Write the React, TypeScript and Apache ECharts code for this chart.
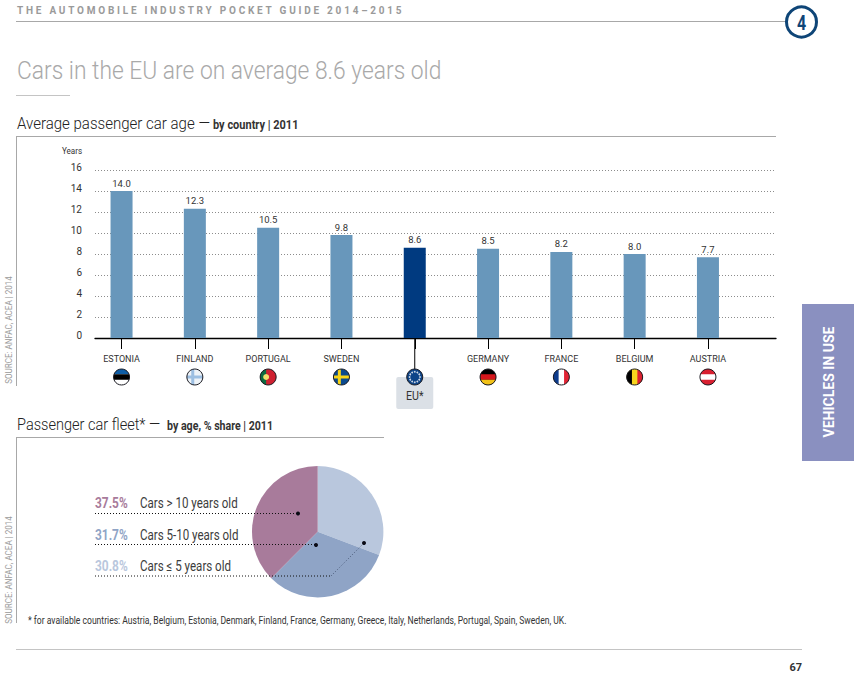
import React, { useEffect, useRef } from "react";
import * as echarts from "echarts";

const categories = ["ESTONIA", "FINLAND", "PORTUGAL", "SWEDEN", "EU*", "GERMANY", "FRANCE", "BELGIUM", "AUSTRIA"];
const ageValues = [14.0, 12.3, 10.5, 9.8, 8.6, 8.5, 8.2, 8.0, 7.7];
const yTicks = { min: 0, max: 16, interval: 2 };
const shareLabels = ["Cars ≤ 5 years old", "Cars 5-10 years old", "Cars > 10 years old"];
const shareValues = [30.8, 31.7, 37.5];
const shareColors = ["#b9c7dd", "#8fa4c6", "#a87b9b"];
const footnote = "* for available countries: Austria, Belgium, Estonia, Denmark, Finland, France, Germany, Greece, Italy, Netherlands, Portugal, Spain, Sweden, UK.";

const ROBOTO = "Roboto, sans-serif";
const R = 8;
const registered: Record<string, boolean> = {};

function hBand(y0: number, y1: number) {
  const name = `h_${y0}_${y1}`.replace(/[.-]/g, "m");
  if (!registered[name]) {
    const a = Math.sqrt(Math.max(0, R * R - y0 * y0));
    const b = Math.sqrt(Math.max(0, R * R - y1 * y1));
    const d = `M${-a} ${y0}L${a} ${y0}A${R} ${R} 0 0 1 ${b} ${y1}L${-b} ${y1}A${R} ${R} 0 0 1 ${-a} ${y0}Z`;
    echarts.graphic.registerShape(name, echarts.graphic.extendPath(d, {}));
    registered[name] = true;
  }
  return name;
}
function vBand(x0: number, x1: number) {
  const name = `v_${x0}_${x1}`.replace(/[.-]/g, "m");
  if (!registered[name]) {
    const a = Math.sqrt(Math.max(0, R * R - x0 * x0));
    const b = Math.sqrt(Math.max(0, R * R - x1 * x1));
    const d = `M${x0} ${-a}A${R} ${R} 0 0 1 ${x1} ${-b}L${x1} ${b}A${R} ${R} 0 0 1 ${x0} ${a}Z`;
    echarts.graphic.registerShape(name, echarts.graphic.extendPath(d, {}));
    registered[name] = true;
  }
  return name;
}

type Part = [string, string];
const flagParts: Record<string, { base: string; parts: Part[]; dot?: string; dots?: boolean }> = {
  ESTONIA: { base: "#ffffff", parts: [[hBand(-8, -2.7), "#0f5fa8"], [hBand(-2.7, 2.7), "#000000"]] },
  FINLAND: { base: "#eef3f8", parts: [[hBand(-1.6, 1.6), "#9dbfe2"], [vBand(-3.6, -0.6), "#9dbfe2"]] },
  PORTUGAL: { base: "#cf2030", parts: [[vBand(-8, -2), "#0b6b40"]], dot: "#f2df6b" },
  SWEDEN: { base: "#0b4a8e", parts: [[hBand(-1.6, 1.6), "#f7d417"], [vBand(-3.6, -0.6), "#f7d417"]] },
  "EU*": { base: "#0d4488", parts: [], dots: true },
  GERMANY: { base: "#000000", parts: [[hBand(-2.7, 2.7), "#d4161c"], [hBand(2.7, 8), "#f2c218"]] },
  FRANCE: { base: "#ffffff", parts: [[vBand(-8, -2.7), "#0e3c8c"], [vBand(2.7, 8), "#e12333"]] },
  BELGIUM: { base: "#f6d51e", parts: [[vBand(-8, -2.7), "#000000"], [vBand(2.7, 8), "#dc2230"]] },
  AUSTRIA: { base: "#ffffff", parts: [[hBand(-8, -2.7), "#d81f30"], [hBand(2.7, 8), "#d81f30"]] },
};

function renderFlag(params: any, api: any) {
  const idx = api.value(0);
  const [x, base] = api.coord([idx, 0]);
  const cat = categories[idx];
  const spec = flagParts[cat];
  const isEU = cat === "EU*";
  const children: any[] = [];
  if (isEU) {
    children.push({ type: "rect", shape: { x: x - 18.5, y: base + 39, width: 37, height: 32, r: 2 }, style: { fill: "#dbe0e6" } });
    children.push({ type: "line", shape: { x1: x, y1: base, x2: x, y2: base + 34 }, style: { stroke: "#000", lineWidth: 1 } });
    children.push({ type: "text", x, y: base + 58, scaleX: 0.85, style: { x: 0, y: 0, text: "EU*", fill: "#333", font: `12.5px ${ROBOTO}`, align: "center", verticalAlign: "middle" } });
  }
  const flag: any[] = [{ type: "circle", shape: { cx: 0, cy: 0, r: R }, style: { fill: spec.base } }];
  spec.parts.forEach(([shape, fill]) => flag.push({ type: shape, style: { fill } }));
  if (spec.dot) flag.push({ type: "circle", shape: { cx: -2, cy: 0, r: 3 }, style: { fill: spec.dot } });
  if (spec.dots) {
    for (let k = 0; k < 12; k++) {
      const a = (k * Math.PI) / 6;
      flag.push({ type: "circle", shape: { cx: 5.2 * Math.cos(a), cy: 5.2 * Math.sin(a), r: 0.9 }, style: { fill: "#cfd9e6" } });
    }
  }
  flag.push({ type: "circle", shape: { cx: 0, cy: 0, r: R }, style: { fill: "none", stroke: "#1b1b22", lineWidth: 1 } });
  children.push({ type: "group", x, y: base + 39, children: flag });
  return { type: "group", children };
}

const txt = (x: number, y: number, text: string, font: string, fill: string, scaleX = 1, extra: any = {}) => ({
  type: "text",
  x,
  y,
  scaleX,
  silent: true,
  style: { text, font, fill, align: "left", verticalAlign: "middle", ...extra },
});
const rule = (x1: number, y1: number, x2: number, y2: number, stroke = "#a8a8a8", lineWidth = 1) => ({
  type: "line",
  silent: true,
  shape: { x1, y1, x2, y2 },
  style: { stroke, lineWidth },
});
const rot = (x: number, y: number, text: string, font: string, fill: string, scaleX = 1) => ({
  type: "text",
  x,
  y,
  rotation: Math.PI / 2,
  scaleX,
  silent: true,
  style: { text, font, fill, align: "center", verticalAlign: "middle" },
});
const leader = (points: number[][], stroke = "#111") => ({
  type: "polyline",
  silent: true,
  shape: { points },
  style: { stroke, lineWidth: 1, lineDash: [1, 2], fill: "none" },
});
const dot = (cx: number, cy: number) => ({ type: "circle", silent: true, shape: { cx, cy, r: 2 }, style: { fill: "#0a0a14" } });

export default function App() {
  const ref = useRef<HTMLDivElement>(null);
  useEffect(() => {
    const chart = echarts.init(ref.current!, null, { renderer: "svg" });
    const elements: any[] = [
      txt(17, 10, "THE AUTOMOBILE INDUSTRY POCKET GUIDE 2014–2015", `bold 10px ${ROBOTO}`, "#9a9a9a"),
      rule(16, 21.5, 786, 21.5),
      { type: "circle", silent: true, shape: { cx: 801.5, cy: 22, r: 15 }, style: { fill: "#fff", stroke: "#0e4577", lineWidth: 3 } },
      txt(801.5, 23, "4", `bold 20px ${ROBOTO}`, "#0e4577", 0.8, { align: "center" }),
      txt(17, 71, "Cars in the EU are on average 8.6 years old", `300 25.5px ${ROBOTO}`, "#a9a9a9", 0.895),
      rule(16, 95.5, 70, 95.5, "#c4c4c4"),
      txt(17, 124, "Average passenger car age —", `300 16px ${ROBOTO}`, "#222", 0.94),
      txt(213, 125, "by country | 2011", `bold 12.5px ${ROBOTO}`, "#333", 0.88),
      rule(16, 136.5, 776, 136.5),
      rule(16.5, 136, 16.5, 386),
      txt(62, 151, "Years", `9.5px ${ROBOTO}`, "#333", 0.85),
      rot(9, 330, "SOURCE: ANFAC, ACEA | 2014", `9.5px ${ROBOTO}`, "#9a9a9a", 0.85),
      { type: "rect", silent: true, shape: { x: 802, y: 304, width: 52, height: 157 }, style: { fill: "#8a90c0" } },
      rot(829, 382, "VEHICLES IN USE", `bold 14px ${ROBOTO}`, "#ffffff"),
      txt(17, 425, "Passenger car fleet* —", `300 16px ${ROBOTO}`, "#222", 0.91),
      txt(167, 426, "by age, % share | 2011", `bold 12.5px ${ROBOTO}`, "#333", 0.85),
      rule(16, 437.5, 384, 437.5),
      rule(16.5, 437, 16.5, 623),
      rot(9, 570, "SOURCE: ANFAC, ACEA | 2014", `9.5px ${ROBOTO}`, "#9a9a9a", 0.85),
      txt(95, 503, "37.5%", `bold 14px ${ROBOTO}`, shareColors[2], 0.85),
      txt(140, 503, shareLabels[2], `15px ${ROBOTO}`, "#3c3c3c", 0.77),
      txt(95, 535, "31.7%", `bold 14px ${ROBOTO}`, shareColors[1], 0.85),
      txt(140, 535, shareLabels[1], `15px ${ROBOTO}`, "#3c3c3c", 0.77),
      txt(95, 566, "30.8%", `bold 14px ${ROBOTO}`, shareColors[0], 0.85),
      txt(140, 566, shareLabels[0], `15px ${ROBOTO}`, "#3c3c3c", 0.77),
      leader([[95, 513.5], [298, 513.5]]),
      leader([[95, 544.5], [316, 544.5]]),
      leader([[95, 576], [331, 576]]),
      leader([[331, 576], [364, 543]], "#4a5a78"),
      dot(298, 513.5),
      dot(316, 545),
      dot(364, 543),
      txt(28, 620, footnote, `10.5px ${ROBOTO}`, "#333", 0.818),
      rule(16, 649.5, 802, 649.5, "#c4c4c4"),
      txt(802, 667, "67", `bold 11px ${ROBOTO}`, "#333", 1, { align: "right" }),
    ];
    const option: any = {
      animation: false,
      backgroundColor: "#ffffff",
      grid: [
        { left: 95, top: 170, width: 681, height: 168 },
        { left: 84.9, top: 170, width: 659.7, height: 168 },
      ],
      xAxis: [
        {
          type: "category",
          gridIndex: 0,
          data: categories,
          axisLine: { show: true, lineStyle: { color: "#000", width: 1.3 } },
          axisTick: { show: false },
          axisLabel: { show: false },
          splitLine: { show: false },
        },
        {
          type: "category",
          gridIndex: 1,
          data: categories,
          axisLine: { show: false },
          axisTick: { show: true, alignWithLabel: true, length: 11, lineStyle: { color: "#000", width: 1 } },
          axisLabel: {
            margin: 16,
            interval: 0,
            color: "#333",
            fontFamily: ROBOTO,
            fontSize: 9,
            formatter: (v: string) => (v === "EU*" ? "" : v),
          },
        },
      ],
      yAxis: [
        {
          type: "value",
          gridIndex: 0,
          ...yTicks,
          axisLine: { show: false },
          axisTick: { show: false },
          axisLabel: { margin: 13, color: "#333", fontFamily: ROBOTO, fontSize: 10, verticalAlign: "bottom", lineHeight: 6 },
          splitLine: { show: true, lineStyle: { color: "#8c8c8c", type: [1, 2], width: 1 } },
        },
        { type: "value", gridIndex: 1, ...yTicks, show: false, splitLine: { show: false } },
      ],
      series: [
        {
          type: "bar",
          xAxisIndex: 1,
          yAxisIndex: 1,
          barWidth: 22,
          silent: true,
          data: ageValues.map((value, i) => ({
            value,
            itemStyle: { color: categories[i] === "EU*" ? "#003a80" : "#6897bb" },
          })),
          label: {
            show: true,
            position: "top",
            distance: 3,
            color: "#333",
            fontFamily: ROBOTO,
            fontSize: 9.5,
            formatter: (p: any) => p.value.toFixed(1),
          },
        },
        {
          type: "custom",
          xAxisIndex: 1,
          yAxisIndex: 1,
          clip: false,
          silent: true,
          data: categories.map((_, i) => [i]),
          encode: { x: 0 },
          renderItem: renderFlag,
        },
        {
          type: "pie",
          center: [317.7, 531.7],
          radius: 65.7,
          startAngle: 90,
          clockwise: true,
          silent: true,
          label: { show: false },
          labelLine: { show: false },
          data: shareValues.map((value, i) => ({ value, name: shareLabels[i], itemStyle: { color: shareColors[i] } })),
        },
      ],
      graphic: elements.map((e) => ({ ...e, z: 10 })),
    };
    chart.setOption(option);
    chart.getDom().querySelectorAll("text").forEach((t: any) => {
      if ((t.textContent || "").startsWith("THE AUTOMOBILE")) t.style.letterSpacing = "2.77px";
    });
    return () => chart.dispose();
  }, []);
  return <div ref={ref} style={{ position: "absolute", left: 0, top: 0, width: 854, height: 675 }} />;
}
